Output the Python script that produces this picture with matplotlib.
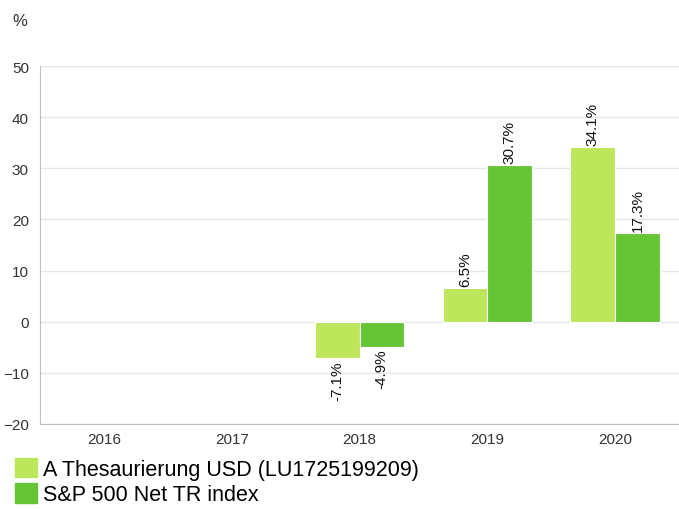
import numpy as np
import matplotlib
matplotlib.use('Agg')
import matplotlib.pyplot as plt
from matplotlib.patches import Patch

plt.rcParams['font.family'] = ['Liberation Sans', 'DejaVu Sans']

years = ['2016', '2017', '2018', '2019', '2020']
fund = [np.nan, np.nan, -7.1, 6.5, 34.1]
index = [np.nan, np.nan, -4.9, 30.7, 17.3]
names = ['A Thesaurierung USD (LU1725199209)', 'S&P 500 Net TR index']
colors = ['#bde65a', '#66c535']

fig = plt.figure(figsize=(6.79, 5.10), dpi=100)
ax = fig.add_axes([40 / 679, 1 - 425 / 510, 639 / 679, (425 - 67) / 510])

x = np.arange(len(years))
width = 0.35
for i, (vals, col) in enumerate(zip([fund, index], colors)):
    pos = x - width / 2 + i * width
    ax.bar(pos, vals, width, color=col, edgecolor='white', linewidth=0.8, zorder=2)
    for xp, v in zip(pos, vals):
        if np.isnan(v):
            continue
        off = 0.4 if v >= 0 else -0.4
        ax.text(xp, v + off, f'{v:.1f}%', rotation=90, ha='center',
                va='bottom' if v >= 0 else 'top', fontsize=11, color='#111111')

ax.set_xlim(-0.5, len(years) - 0.5)
ax.set_ylim(-20, 50)
ax.set_yticks(range(-20, 51, 10))
ax.set_xticks(x, years)
ax.grid(True, axis='y', color='#e6e6e6', linewidth=1, zorder=0)
ax.tick_params(length=0, labelsize=11, labelcolor='#333333')
ax.tick_params(axis='x', pad=6)
ax.tick_params(axis='y', pad=8)
for s in ['top', 'right']:
    ax.spines[s].set_visible(False)
ax.spines['left'].set_color('#c0c0c0')
ax.spines['bottom'].set_color('#c0c0c0')

fig.text(12 / 679, 1 - 22 / 510, '%', fontsize=12, color='#333333', va='center')

handles = [Patch(color=c, label=n) for c, n in zip(colors, names)]
fig.legend(handles=handles, loc='upper left', bbox_to_anchor=(15 / 679, 1 - 459 / 510),
           frameon=False, fontsize=15.5, handlelength=1.0, handleheight=1.0,
           handletextpad=0.3, labelspacing=0.15, borderaxespad=0, borderpad=0)

fig.savefig('out.png', dpi=100)
